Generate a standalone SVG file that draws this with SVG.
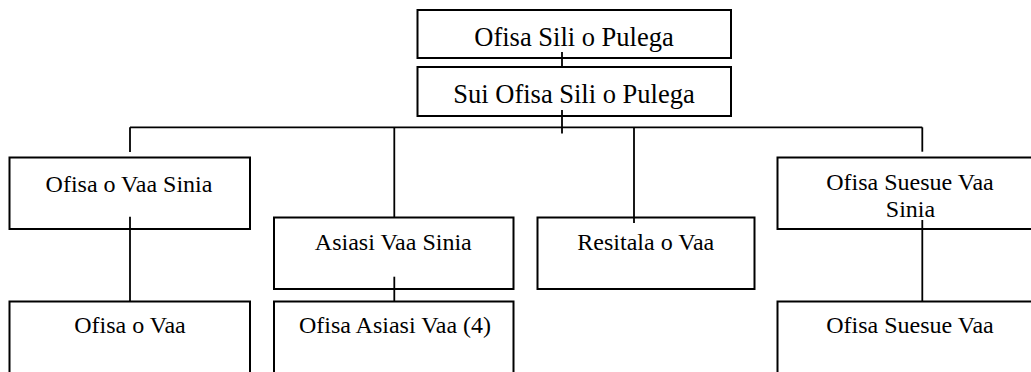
<svg xmlns="http://www.w3.org/2000/svg" width="1031" height="372" viewBox="0 0 1031 372">
<style>
.box{fill:#fff;stroke:#000;stroke-width:2}
.lbl{font-family:"Liberation Serif","Times New Roman",serif;font-size:24px;fill:#000;text-anchor:middle}
.big{font-size:26.5px}
.con line{stroke:#000;stroke-width:1.8}
</style>
<rect width="1031" height="372" fill="#fff"/>
<g id="n1"><rect class="box" x="417.5" y="10" width="313.5" height="48"/><text class="lbl big" x="574" y="46">Ofisa Sili o Pulega</text></g>
<g id="n2"><rect class="box" x="417.5" y="67" width="313.5" height="49"/><text class="lbl big" x="574" y="102.7">Sui Ofisa Sili o Pulega</text></g>
<g id="n3"><rect class="box" x="9.5" y="157.5" width="240.5" height="71.5"/><text class="lbl" x="129" y="191.7">Ofisa o Vaa Sinia</text></g>
<g id="n4"><rect class="box" x="274" y="217.5" width="239.5" height="71.5"/><text class="lbl" x="393.3" y="250">Asiasi Vaa Sinia</text></g>
<g id="n5"><rect class="box" x="537.5" y="217.5" width="217" height="71.5"/><text class="lbl" x="645.8" y="250">Resitala o Vaa</text></g>
<g id="n6"><rect class="box" x="777.5" y="157.5" width="270" height="71.5"/><text class="lbl" x="910" y="190">Ofisa Suesue Vaa</text><text class="lbl" x="910.5" y="217.3">Sinia</text></g>
<g id="n7"><rect class="box" x="9.5" y="301.5" width="240.5" height="90"/><text class="lbl" x="130" y="333.3">Ofisa o Vaa</text></g>
<g id="n8"><rect class="box" x="274" y="301.5" width="239.5" height="90"/><text class="lbl" x="395" y="333.3">Ofisa Asiasi Vaa (4)</text></g>
<g id="n9"><rect class="box" x="777.5" y="301.5" width="270" height="90"/><text class="lbl" x="910" y="333.3">Ofisa Suesue Vaa</text></g>
<g id="connectors" class="con">
<line x1="562" y1="52" x2="562" y2="67"/>
<line x1="562" y1="110" x2="562" y2="133.5"/>
<line x1="130" y1="127.3" x2="922.3" y2="127.3"/>
<line x1="130" y1="127.3" x2="130" y2="152"/>
<line x1="394.3" y1="127.3" x2="394.3" y2="217.5"/>
<line x1="634" y1="127.3" x2="634" y2="223"/>
<line x1="922.3" y1="127.3" x2="922.3" y2="151.7"/>
<line x1="130" y1="216.7" x2="130" y2="301.5"/>
<line x1="394.3" y1="276.7" x2="394.3" y2="301.5"/>
<line x1="922.3" y1="220" x2="922.3" y2="301.5"/>
</g>
</svg>
